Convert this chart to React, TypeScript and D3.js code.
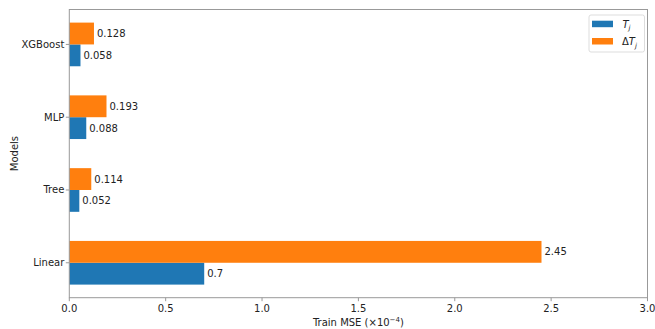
import React from "react";
import * as d3 from "d3";

const models = ["Linear", "Tree", "MLP", "XGBoost"];
const tValues = [0.7, 0.052, 0.088, 0.058];
const deltaValues = [2.45, 0.114, 0.193, 0.128];
const xTicks = [0, 0.5, 1.0, 1.5, 2.0, 2.5, 3.0];

const W = 655;
const H = 329;
const plot = { left: 69.3, right: 647.5, top: 9.5, bottom: 297.7 };
const BLUE = "#1f77b4";
const ORANGE = "#ff7f0e";
const FONT = "DejaVu Sans, sans-serif";
const barH = 0.3;

export default function App() {
  const x = d3.scaleLinear().domain([0, 3]).range([plot.left, plot.right]);
  const y = d3.scaleLinear().domain([-0.48, 3.48]).range([plot.bottom, plot.top]);
  const hPx = y(0) - y(barH);

  const fmt = (v: number) => String(v);

  return (
    <svg
      width={W}
      height={H}
      style={{ position: "absolute", left: 0, top: 0, background: "#fff" }}
      fontFamily={FONT}
    >
      <rect x={0} y={0} width={W} height={H} fill="#fff" />
      {models.map((m, i) => {
        const tv = tValues[i];
        const dv = deltaValues[i];
        const blueTop = y(i);
        const orangeTop = y(i + barH);
        return (
          <g key={m}>
            <rect x={x(0)} y={blueTop} width={x(tv) - x(0)} height={hPx} fill={BLUE} />
            <rect x={x(0)} y={orangeTop} width={x(dv) - x(0)} height={hPx} fill={ORANGE} />
            <text x={x(tv) + 3} y={blueTop + hPx / 2} dy="0.35em" fontSize={10} fill="#222">
              {fmt(tv)}
            </text>
            <text x={x(dv) + 3} y={orangeTop + hPx / 2} dy="0.35em" fontSize={10} fill="#222">
              {fmt(dv)}
            </text>
          </g>
        );
      })}
      {/* frame */}
      <rect
        x={plot.left}
        y={plot.top}
        width={plot.right - plot.left}
        height={plot.bottom - plot.top}
        fill="none"
        stroke="#999"
        strokeWidth={1}
      />
      {/* y ticks */}
      {models.map((m, i) => (
        <g key={"yt" + m}>
          <line x1={plot.left - 3.5} x2={plot.left} y1={y(i)} y2={y(i)} stroke="#999" />
          <text x={plot.left - 5} y={y(i)} dy="0.35em" textAnchor="end" fontSize={10} fill="#222">
            {m}
          </text>
        </g>
      ))}
      {/* x ticks */}
      {xTicks.map((t) => (
        <g key={"xt" + t}>
          <line x1={x(t)} x2={x(t)} y1={plot.bottom} y2={plot.bottom + 3.5} stroke="#999" />
          <text x={x(t)} y={plot.bottom + 14} textAnchor="middle" fontSize={10} fill="#222">
            {t.toFixed(1)}
          </text>
        </g>
      ))}
      {/* axis titles */}
      <text x={(plot.left + plot.right) / 2} y={326} textAnchor="middle" fontSize={10} fill="#222">
        Train MSE (×10
        <tspan fontSize={7} dy={-4}>−4</tspan>
        <tspan dy={4}>)</tspan>
      </text>
      <text
        transform={`translate(17.5, ${(plot.top + plot.bottom) / 2}) rotate(-90)`}
        textAnchor="middle"
        fontSize={10}
        fill="#222"
      >
        Models
      </text>
      {/* legend */}
      <g>
        <rect x={589} y={15} width={55.5} height={37} rx={2} fill="#fff" stroke="#ddd" strokeWidth={1} />
        <rect x={592} y={20.7} width={21} height={6.5} fill={BLUE} />
        <rect x={592} y={38} width={21} height={6.5} fill={ORANGE} />
        <text x={622.5} y={27.5} fontSize={10} fill="#222">
          <tspan fontStyle="italic">T</tspan>
          <tspan fontStyle="italic" fontSize={7} dy={2.5}>j</tspan>
        </text>
        <text x={622} y={45} fontSize={10} fill="#222">
          Δ<tspan fontStyle="italic">T</tspan>
          <tspan fontStyle="italic" fontSize={7} dy={2.5}>j</tspan>
        </text>
      </g>
    </svg>
  );
}
